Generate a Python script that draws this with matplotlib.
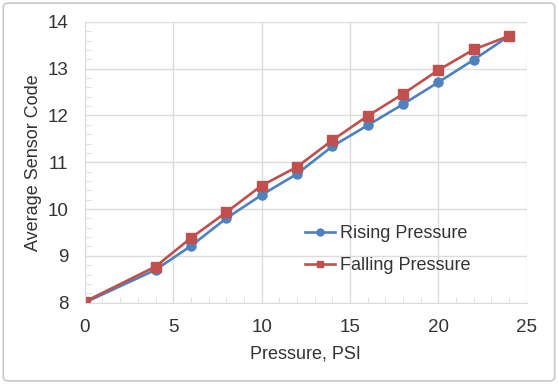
import numpy as np
import matplotlib.pyplot as plt
from matplotlib.patches import FancyBboxPatch
from matplotlib.ticker import MultipleLocator

plt.rcParams['font.family'] = ['Liberation Sans', 'DejaVu Sans']

pressure = [0, 4, 6, 8, 10, 12, 14, 16, 18, 20, 22, 24]
rising = [8.0, 8.70, 9.21, 9.80, 10.30, 10.75, 11.34, 11.79, 12.24, 12.71, 13.19, 13.70]
falling = [8.02, 8.77, 9.38, 9.93, 10.50, 10.90, 11.47, 11.99, 12.46, 12.97, 13.41, 13.70]

blue = '#4F81BD'
red = '#C0504D'
grid_c = '#DCDCDC'
text_c = '#333333'

fig = plt.figure(figsize=(5.58, 3.84), dpi=100)
ax = fig.add_axes([0.152, 0.212, 0.792, 0.731])

ax.plot(pressure, rising, color=blue, marker='o', markersize=6.5, lw=1.9, label='Rising Pressure')
ax.plot(pressure, falling, color=red, marker='s', markersize=6.5, lw=1.9, label='Falling Pressure')

ax.set_xlim(0, 25)
ax.set_ylim(8, 14)
ax.xaxis.set_major_locator(MultipleLocator(5))
ax.xaxis.set_minor_locator(MultipleLocator(1))
ax.yaxis.set_major_locator(MultipleLocator(1))
ax.yaxis.set_minor_locator(MultipleLocator(0.2))
ax.grid(True, which='major', color=grid_c, lw=1)
ax.set_axisbelow(True)

for s in ['top', 'right']:
    ax.spines[s].set_visible(False)
for s in ['left', 'bottom']:
    ax.spines[s].set_color(grid_c)
ax.tick_params(which='both', direction='in', color=grid_c, labelsize=13.5, labelcolor=text_c)
ax.tick_params(which='major', length=0)
ax.tick_params(axis='x', which='major', pad=12)
ax.tick_params(axis='y', which='major', pad=12)
ax.tick_params(which='minor', length=4)

ax.set_xlabel('Pressure, PSI', fontsize=13, color=text_c, labelpad=7)
ax.set_ylabel('Average Sensor Code', fontsize=13, color=text_c, labelpad=4)

leg = ax.legend(loc='center left', bbox_to_anchor=(0.498, 0.188), frameon=False, fontsize=13,
                handlelength=1.66, handletextpad=0.28, labelspacing=0.85, borderaxespad=0,
                borderpad=0)
for h in leg.legend_handles:
    h.set_markersize(5)
for t in leg.get_texts():
    t.set_color(text_c)

border = FancyBboxPatch((0.006, 0.008), 0.988, 0.984, boxstyle='round,pad=0,rounding_size=0.01',
                        transform=fig.transFigure, facecolor='none', edgecolor='#C8C8C8', lw=1.2)
fig.patches.append(border)

fig.savefig('out.png', dpi=100)
